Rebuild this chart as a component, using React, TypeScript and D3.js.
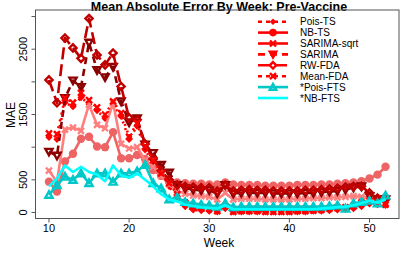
import * as d3 from "d3";

const weeks = d3.range(10, 53);

const poisTS = [1150, 1120, 1680, 1620, 1760, 1660, 1560, 1440, 1640, 1470, 1120, 1320, 960, 760, 560, 400, 220, 90, 40, 30, 20, 10, 60, 10, 10, 10, 10, 10, 10, 10, 10, 10, 10, 20, 20, 30, 40, 50, 60, 90, 130, 120, 110];
const nbTS = [470, 320, 780, 900, 1130, 1160, 1010, 1000, 1230, 830, 830, 880, 820, 650, 560, 480, 460, 450, 440, 440, 430, 430, 460, 430, 420, 420, 420, 410, 410, 410, 410, 420, 420, 420, 430, 430, 440, 450, 460, 480, 520, 580, 700];
const sarimaSqrt = [640, 470, 1270, 1300, 1250, 1650, 1340, 1290, 1680, 1050, 980, 1000, 800, 700, 560, 430, 330, 290, 260, 250, 240, 200, 300, 200, 210, 210, 210, 200, 200, 200, 200, 210, 210, 220, 220, 230, 230, 240, 250, 240, 220, 200, 230];
const sarima = [930, 870, 1750, 2020, 1920, 2600, 2180, 2070, 2230, 1700, 1380, 1440, 1040, 910, 730, 610, 420, 370, 350, 340, 340, 290, 420, 290, 300, 300, 300, 300, 290, 290, 290, 290, 300, 300, 310, 320, 330, 350, 380, 400, 250, 200, 200];
const rwFDA = [2030, 1680, 2670, 2520, 2360, 2970, 2410, 2260, 2440, 1930, 1450, 1420, 1050, 820, 640, 500, 420, 400, 390, 380, 380, 330, 420, 330, 340, 350, 340, 340, 330, 330, 330, 330, 340, 340, 350, 360, 370, 390, 400, 400, 300, 220, 200];
const meanFDA = [1210, 1200, 1750, 1680, 1830, 1720, 1610, 1500, 1700, 1520, 1160, 1370, 1010, 800, 600, 450, 280, 150, 100, 80, 60, 20, 100, 10, 20, 20, 20, 10, 10, 10, 10, 20, 20, 30, 40, 60, 80, 80, 100, 150, 180, 160, 120];
const poisFTS = [270, 420, 550, 500, 600, 450, 600, 600, 470, 600, 600, 630, 730, 450, 370, 200, 230, 160, 140, 120, 110, 90, 140, 80, 90, 90, 90, 90, 90, 90, 90, 90, 90, 90, 90, 100, 110, 60, 140, 160, 180, 140, 260];
const nbFTS = [400, 520, 720, 620, 700, 620, 580, 480, 720, 570, 530, 600, 500, 400, 280, 200, 170, 120, 100, 80, 70, 60, 110, 50, 50, 50, 50, 50, 50, 50, 50, 50, 50, 50, 60, 70, 80, 90, 110, 140, 180, 150, 200];

const seriesNames = ["Pois-TS", "NB-TS", "SARIMA-sqrt", "SARIMA", "RW-FDA", "Mean-FDA", "*Pois-FTS", "*NB-FTS"];
const seriesValues = [poisTS, nbTS, sarimaSqrt, sarima, rwFDA, meanFDA, poisFTS, nbFTS];
const xTicks = [10, 20, 30, 40, 50];
const yTicks = [0, 500, 1000, 1500, 2000, 2500, 3000];
const yLabels = [0, 500, 1500, 2500];

// plot styles per series (colour, dash, marker)
const styles = [
  { color: "#ff0000", dash: "2,5", marker: "fdiamond" },
  { color: "#ee6363", dash: "", marker: "circle" },
  { color: "#ff7f7f", dash: "", marker: "x" },
  { color: "#8b0000", dash: "7,5", marker: "tri-down" },
  { color: "#c00000", dash: "12,5", marker: "diamond" },
  { color: "#ff0000", dash: "2,5", marker: "x" },
  { color: "#00c8c8", dash: "", marker: "tri-up" },
  { color: "#00ffff", dash: "", marker: "none" },
];

const FONT = "Liberation Sans, Arial, sans-serif";

function Marker({ type, x, y, color, s = 1 }: { type: string; x: number; y: number; color: string; s?: number }) {
  const r = 3.6 * s;
  if (type === "circle") return <circle cx={x} cy={y} r={4.2 * s} fill={color} />;
  if (type === "fdiamond")
    return <path d={`M${x},${y - r}L${x + r},${y}L${x},${y + r}L${x - r},${y}Z`} fill={color} />;
  if (type === "diamond")
    return <path d={`M${x},${y - r}L${x + r},${y}L${x},${y + r}L${x - r},${y}Z`} fill="none" stroke={color} strokeWidth={2.4} />;
  if (type === "x")
    return <path d={`M${x - 3},${y - 3}L${x + 3},${y + 3}M${x - 3},${y + 3}L${x + 3},${y - 3}`} stroke={color} strokeWidth={2.4} />;
  if (type === "tri-down")
    return <path d={`M${x - r},${y - r * 0.8}L${x + r},${y - r * 0.8}L${x},${y + r}Z`} fill="none" stroke={color} strokeWidth={2.4} />;
  if (type === "tri-up")
    return <path d={`M${x - r},${y + r * 0.8}L${x + r},${y + r * 0.8}L${x},${y - r}Z`} fill="none" stroke={color} strokeWidth={2.4} />;
  return null;
}

export default function App() {
  const width = 407;
  const height = 255;
  const left = 35.5;
  const right = 399;
  const top = 10;
  const bottom = 218.5;

  const x = d3.scaleLinear().domain([8.32, 53.68]).range([left, right]);
  const y = d3.scaleLinear().domain([-92, 3100]).range([bottom, top]);

  const line = d3
    .line<number>()
    .x((_, i) => x(weeks[i]))
    .y((d) => y(d));

  const legX = 258;
  const legY = 21.7;
  const legStep = 10.9;

  return (
    <svg width={width} height={height} style={{ position: "absolute", left: 0, top: 0 }} fontFamily={FONT}>
      <rect width={width} height={height} fill="#fff" />
      <text x={219} y={10.5} textAnchor="middle" fontSize={12.5} fontWeight="bold">
        Mean Absolute Error By Week: Pre-Vaccine
      </text>

      {seriesValues.map((vals, k) => (
        <g key={seriesNames[k]}>
          <path
            d={line(vals) ?? ""}
            fill="none"
            stroke={styles[k].color}
            strokeWidth={2.6}
            strokeDasharray={styles[k].dash}
            strokeLinejoin="round"
          />
          {vals.map((v, i) => (
            <Marker key={i} type={styles[k].marker} x={x(weeks[i])} y={y(v)} color={styles[k].color} />
          ))}
        </g>
      ))}

      <rect x={left} y={top} width={right - left} height={bottom - top} fill="none" stroke="#555" strokeWidth={1} />

      {/* x axis */}
      {xTicks.map((t) => (
        <g key={t}>
          <line x1={x(t)} x2={x(t)} y1={bottom} y2={bottom + 4} stroke="#555" />
          <text x={x(t)} y={232} textAnchor="middle" fontSize={11}>
            {t}
          </text>
        </g>
      ))}
      <text x={219} y={247} textAnchor="middle" fontSize={12}>
        Week
      </text>

      {/* y axis */}
      {yTicks.map((t) => (
        <line key={t} x1={left - 4} x2={left} y1={y(t)} y2={y(t)} stroke="#555" />
      ))}
      {yLabels.map((t) => (
        <text key={t} transform={`translate(27,${y(t)}) rotate(-90)`} textAnchor="middle" fontSize={11}>
          {t}
        </text>
      ))}
      <text transform={`translate(15,115) rotate(-90)`} textAnchor="middle" fontSize={12}>
        MAE
      </text>

      {/* legend */}
      {seriesNames.map((name, k) => {
        const ly = legY + k * legStep;
        const c = k >= 6 ? styles[k].color : "#ff0000";
        return (
          <g key={name}>
            <line
              x1={legX}
              x2={legX + 30}
              y1={ly}
              y2={ly}
              stroke={c}
              strokeWidth={2.6}
              strokeDasharray={styles[k].dash === "2,5" ? "4,4" : styles[k].dash}
            />
            <Marker type={k === 1 ? "circle" : styles[k].marker} x={legX + 15} y={ly} color={c} s={0.9} />
            <text x={300} y={ly + 3.5} fontSize={10}>
              {name}
            </text>
          </g>
        );
      })}
    </svg>
  );
}
